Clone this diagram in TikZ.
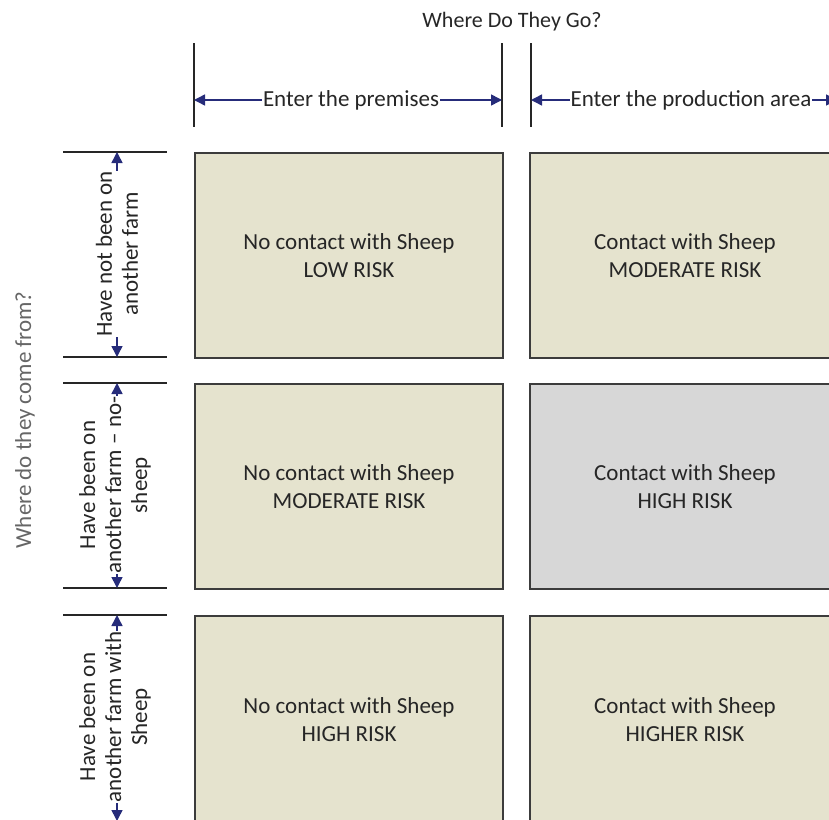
\documentclass[tikz,border=0pt]{standalone}
\usepackage{fontspec}
\setmainfont{Carlito}
\usetikzlibrary{arrows.meta}
\definecolor{beige}{HTML}{E5E3CE}
\definecolor{greybox}{HTML}{D7D7D7}
\definecolor{boxline}{HTML}{3C3C3C}
\definecolor{txt}{HTML}{262626}
\definecolor{navy}{HTML}{262C7A}
\definecolor{lightgrey}{HTML}{666666}
\begin{document}
\begin{tikzpicture}[x=1pt,y=-1pt,
  cell/.style={draw=boxline, line width=2pt, fill=beige, minimum width=308pt,
    minimum height=205pt, align=center, font=\fontsize{23}{28}\selectfont,
    text=txt, anchor=north west, inner sep=0pt},
  tick/.style={draw=txt, line width=1.6pt},
  dimarrow/.style={draw=navy, line width=1.5pt,
    {Triangle[length=11pt,width=11pt]}-{Triangle[length=11pt,width=11pt]}},
  toplbl/.style={fill=white, inner sep=1pt, text=txt, font=\fontsize{23}{26}\selectfont},
  sidelbl/.style={fill=white, inner sep=0.5pt, text=txt, rotate=90, align=center,
    font=\fontsize{23}{26}\selectfont},
  title/.style={font=\fontsize{22}{26}\selectfont}
]
\useasboundingbox (0,0) rectangle (829,819);
\clip (0,0) rectangle (829,819);

% titles
\node[title, text=txt] (t1) at (512,22) {Where Do They Go?};
\node[title, text=lightgrey, rotate=90, font=\fontsize{23}{26}\selectfont] (t2) at (25,420) {Where do they come from?};

% top ticks
\coordinate (a1) at (194,100);
\coordinate (a2) at (502,100);
\coordinate (a3) at (531,100);
\coordinate (a4) at (837,100);
\draw[tick] (194,43) -- (194,127);
\draw[tick] (502,43) -- (502,127);
\draw[tick] (531,43) -- (531,127);
\draw[dimarrow] (a1) -- (a2);
\draw[dimarrow] (a3) -- (a4);
\node[toplbl] (h1) at (351,100) {Enter the premises};
\node[toplbl] (h2) at (691,100) {Enter the production area};

% side ticks
\foreach \y in {152,357,383,588,615} \draw[tick] (63,\y) -- (167,\y);
\coordinate (b1) at (117,152);
\coordinate (b2) at (117,357);
\coordinate (b3) at (117,383);
\coordinate (b4) at (117,588);
\coordinate (b5) at (117,615);
\coordinate (b6) at (117,821);
\draw[dimarrow] (b1) -- (b2);
\draw[dimarrow] (b3) -- (b4);
\draw[dimarrow] (b5) -- (b6);
\node[sidelbl] (s1) at (117,254) {Have not been on\\another farm};
\node[sidelbl] (s2) at (115,485) {Have been on\\another farm – no-\\sheep};
\node[sidelbl] (s3) at (115,717) {Have been on\\another farm with\\Sheep};

% cells
\node[cell] (c11) at (194,152) {No contact with Sheep\\LOW RISK};
\node[cell, minimum width=310pt] (c12) at (529,152) {Contact with Sheep\\MODERATE RISK};
\node[cell] (c21) at (194,383) {No contact with Sheep\\MODERATE RISK};
\node[cell, minimum width=310pt, fill=greybox] (c22) at (529,383) {Contact with Sheep\\HIGH RISK};
\node[cell, minimum height=208pt] (c31) at (194,615) {No contact with Sheep\\HIGH RISK};
\node[cell, minimum width=310pt, minimum height=208pt] (c32) at (529,615) {Contact with Sheep\\HIGHER RISK};
\end{tikzpicture}
\end{document}
